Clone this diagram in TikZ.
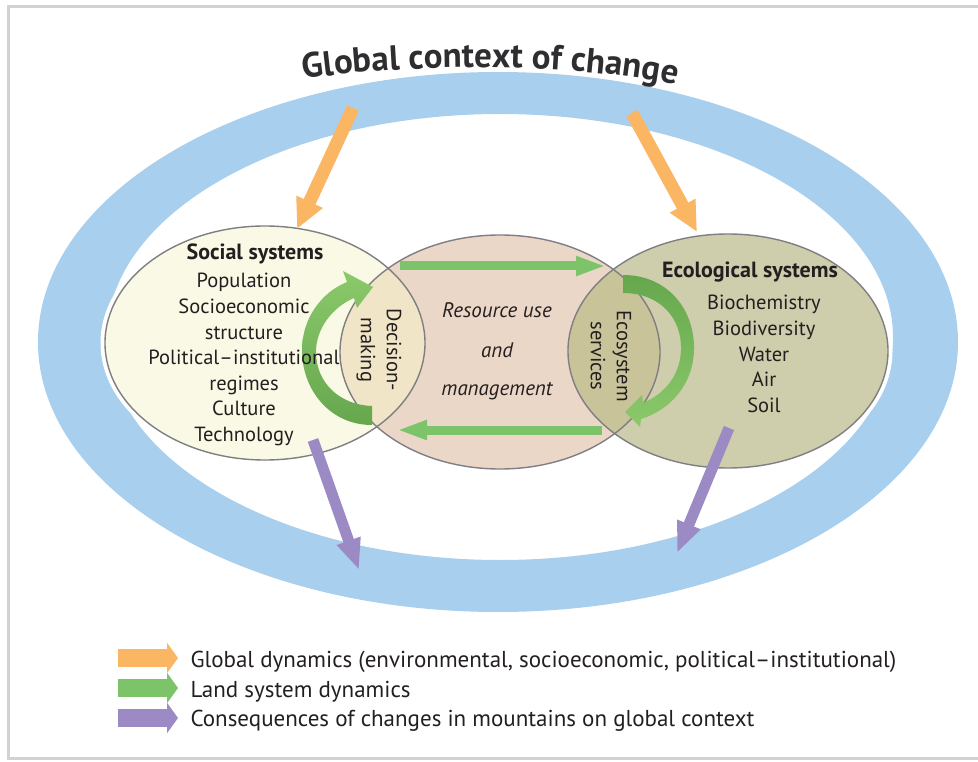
\documentclass[tikz,border=0pt]{standalone}
\usepackage{fontspec}
\setmainfont{PT Sans}
\usetikzlibrary{arrows.meta, decorations.text, calc}

\definecolor{framegray}{HTML}{D2D2D2}
\definecolor{ringblue}{HTML}{A8CFED}
\definecolor{titlegray}{HTML}{2E2E31}
\definecolor{textdark}{HTML}{231F20}
\definecolor{edgegray}{HTML}{7F7F83}
\definecolor{socfill}{HTML}{FAF9E5}
\definecolor{resfill}{HTML}{EBD7C7}
\definecolor{ecofill}{HTML}{CECDAC}
\definecolor{leftlens}{HTML}{F1E5C8}
\definecolor{rightlens}{HTML}{C9C39A}
\definecolor{globorange}{HTML}{FBB664}
\definecolor{landgreen}{HTML}{7CC36A}
\definecolor{greenlight}{HTML}{8BC96A}
\definecolor{greendark}{HTML}{66A74E}
\definecolor{conspurple}{HTML}{9C8AC4}

\newcommand{\titlestyle}{\bfseries\fontsize{35}{37}\selectfont}

\tikzset{
  sysradii/.style={x radius=160, y radius=117},
  halo/.style={draw=white, line width=9pt},
  sysline/.style={draw=edgegray, line width=1.4pt},
  globarrow/.style={draw=globorange, line width=13pt, -{Triangle[length=30pt,width=27pt]}},
  consarrow/.style={draw=conspurple, line width=11pt, -{Triangle[length=31pt,width=23pt]}},
  landarrow/.style={draw=landgreen, line width=9pt, -{Triangle[length=30pt,width=18pt]}},
  legarrow/.style={line width=18pt, -{Triangle[length=11pt,width=30pt]}},
  systitle/.style={font=\bfseries\fontsize{22}{22}\selectfont, text=textdark, anchor=base},
  sysitem/.style={font=\fontsize{20.5}{20.5}\selectfont, text=textdark, anchor=base},
  resitem/.style={font=\itshape\fontsize{21}{21}\selectfont, text=textdark, anchor=base},
  lensitem/.style={font=\fontsize{20.5}{26}\selectfont, text=textdark, rotate=-90, align=center},
  legtext/.style={font=\fontsize{23}{23}\selectfont, text=textdark, anchor=base west}
}

\begin{document}
\begin{tikzpicture}[x=1pt,y=-1pt]
\useasboundingbox (0,0) rectangle (978,762);
% frame
\draw[framegray, line width=3pt] (8,7) rectangle (995,758);

% global context ring
\fill[ringblue, even odd rule] (498,342) ellipse [x radius=460, y radius=270]
  (500,337) ellipse [x radius=393, y radius=223];
\path[decorate, decoration={text along path, text align=center, text color=titlegray,
  text={|\titlestyle|Global context of change}}]
  (290,81) .. controls (410,62) and (570,62) .. (690,87);

% the three systems
\coordinate (soc) at (265,343);
\coordinate (res) at (500,352);
\coordinate (eco) at (728,351);
\foreach \c in {soc,res,eco}
  \draw[halo] (\c) ellipse [sysradii];
\fill[socfill] (soc) ellipse [sysradii];
\fill[resfill] (res) ellipse [sysradii];
\fill[ecofill] (eco) ellipse [sysradii];
\begin{scope}
  \clip (soc) ellipse [sysradii];
  \fill[leftlens] (res) ellipse [sysradii];
\end{scope}
\begin{scope}
  \clip (eco) ellipse [sysradii];
  \fill[rightlens] (res) ellipse [sysradii];
\end{scope}
\foreach \c in {soc,res,eco}
  \draw[sysline] (\c) ellipse [sysradii];

% global dynamics
\coordinate (glob1) at (353,108);
\coordinate (glob1tip) at (297,229);
\coordinate (glob2) at (632,113);
\coordinate (glob2tip) at (697,232);
\draw[globarrow] (glob1) -- (glob1tip);
\draw[globarrow] (glob2) -- (glob2tip);

% consequences on global context
\coordinate (cons1) at (313,440);
\coordinate (cons1tip) at (359,570);
\coordinate (cons2) at (729,428);
\coordinate (cons2tip) at (677,553);
\draw[consarrow] (cons1) -- (cons1tip);
\draw[consarrow] (cons2) -- (cons2tip);

% land system dynamics
\coordinate (land1) at (400,266);
\coordinate (land1tip) at (606,266);
\coordinate (land2) at (602,430);
\coordinate (land2tip) at (397,430);
\draw[landarrow] (land1) -- (land1tip);
\draw[landarrow] (land2) -- (land2tip);
\shade[top color=greenlight, bottom color=greendark]
  (372,425) .. controls (330,425) and (302,390) .. (302,350)
  .. controls (302,318) and (322,292) .. (347,282)
  -- (343,271) -- (373,287) -- (357,308) -- (354,298)
  .. controls (333,307) and (316,328) .. (316,352)
  .. controls (316,383) and (340,405) .. (372,406) -- cycle;
\shade[top color=greendark, bottom color=greenlight]
  (623,275) .. controls (668,275) and (695,310) .. (694,350)
  .. controls (693,385) and (670,410) .. (641,419)
  -- (640,427) -- (625,412) -- (642,395) -- (643,403)
  .. controls (662,395) and (680,378) .. (681,350)
  .. controls (682,318) and (660,293) .. (623,293) -- cycle;

% texts
\node[systitle] (soctitle) at (255,260) {Social systems};
\foreach \txt [count=\i] in {Population, Socioeconomic, structure,
    Political--institutional, regimes, Culture, Technology}
  \node[sysitem] (socitem\i) at (244,262.5+25.5*\i) {\txt};
\node[systitle] (ecotitle) at (750,278) {Ecological systems};
\foreach \txt [count=\i] in {Biochemistry, Biodiversity, Water, Air, Soil}
  \node[sysitem] (ecoitem\i) at (764,284.5+25.5*\i) {\txt};
\node[resitem] (res1) at (497,317) {Resource use};
\node[resitem] (res2) at (497,357) {and};
\node[resitem] (res3) at (497,395) {management};
\node[lensitem] (decide) at (379,350) {Decision-\\making};
\node[lensitem] (ecoserv) at (611,356) {Ecosystem\\services};

% legend
\node[legtext] (leg1) at (187,667) {Global dynamics (environmental, socioeconomic, political--institutional)};
\node[legtext] (leg2) at (187,697) {Land system dynamics};
\node[legtext] (leg3) at (187,726) {Consequences of changes in mountains on global context};
\draw[legarrow, draw=globorange] (118,658) -- (178,658);
\draw[legarrow, draw=landgreen] (118,688) -- (178,688);
\draw[legarrow, draw=conspurple] (118,718) -- (178,718);
\end{tikzpicture}
\end{document}
